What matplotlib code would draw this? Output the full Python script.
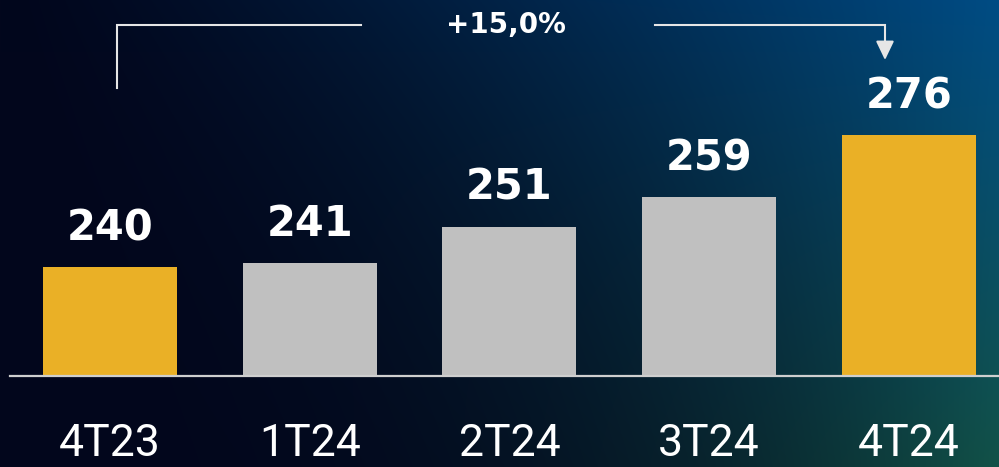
import numpy as np
from matplotlib import pyplot as plt

# dados do gráfico
categorias = ['4T23', '1T24', '2T24', '3T24', '4T24']
valores = [240, 241, 251, 259, 276]
cores = ['#EAB026', '#C0C0C0', '#C0C0C0', '#C0C0C0', '#EAB026']
variacao = '+15,0%'

BASE = 210.3  # eixo não começa em zero
PX = 3.667    # pixels por unidade no eixo y
PASSO = 199.75  # pixels entre barras


def fundo(ax, w=999, h=467):
    # degradê: azul escuro à esquerda, azul no topo direito, verde-azulado embaixo à direita
    x = np.linspace(0, 1, w)[None, :]
    y = np.linspace(0, 1, h)[:, None]
    base = np.array([2, 6, 28]) / 255
    azul = np.array([0, 76, 132]) / 255
    verde = np.array([18, 82, 72]) / 255
    direita = azul[None, None, :] * (1 - y[..., None]) + verde[None, None, :] * y[..., None]
    p = 1.3 + 1.4 * y
    t = (x ** p)[..., None]
    img = base[None, None, :] * (1 - t) + direita * t
    ax.imshow(img, extent=[0, 1, 0, 1], transform=ax.transAxes, aspect='auto', zorder=0)


def py(pixel):
    # posição vertical em pixels (do topo) -> valor no eixo
    return BASE + (376 - pixel) / PX


def pxx(pixel):
    return (pixel - 110) / PASSO


def desenha():
    fig = plt.figure(figsize=(9.99, 4.67), dpi=100)
    ax = fig.add_axes([0, 0, 1, 1])
    fundo(ax)

    ax.set_ylim(py(467), py(0))
    ax.set_xlim(pxx(0), pxx(999))
    ax.axis('off')

    xs = np.arange(len(categorias))
    alturas = [v - BASE for v in valores]
    ax.bar(xs, alturas, bottom=BASE, width=134 / PASSO, color=cores, zorder=2)

    # linha de base
    ax.axhline(BASE, xmin=10 / 999, xmax=1, color='#CFCFCF', lw=1.6, zorder=3)

    for x, v in zip(xs, valores):
        ax.text(x, v + 27 / PX, str(v), ha='center', va='baseline',
                fontsize=30, fontweight='bold', color='white', zorder=4)
        ax.text(x, py(456), categorias[x], ha='center', va='baseline',
                fontsize=32, family='Roboto', color='white', zorder=4)

    # colchete com a variação
    lc = '#E6E6E6'
    ax.plot([pxx(117), pxx(117), pxx(361)], [py(88), py(25), py(25)],
            color=lc, lw=1.5, zorder=4, solid_joinstyle='miter')
    ax.plot([pxx(655), pxx(885), pxx(885)], [py(25), py(25), py(44)],
            color=lc, lw=1.5, zorder=4, solid_joinstyle='miter')
    ax.annotate('', xy=(pxx(885), py(60)), xytext=(pxx(885), py(43)),
                arrowprops=dict(arrowstyle='-|>,head_length=1.15,head_width=0.55',
                                color=lc, lw=1.5, shrinkA=0, shrinkB=0), zorder=4)
    ax.text(pxx(506), py(25), variacao, ha='center', va='center',
            fontsize=20, fontweight='bold', color='white', zorder=4)

    fig.savefig('out.png', dpi=100)


if __name__ == '__main__':
    desenha()
